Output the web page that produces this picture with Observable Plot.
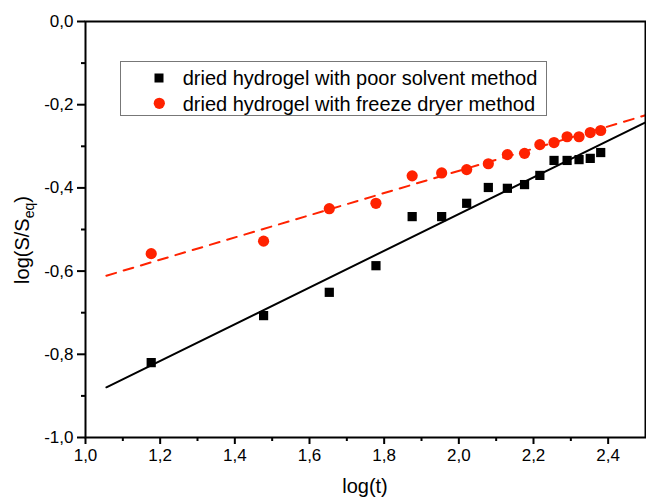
<!DOCTYPE html>
<html>
<head>
<meta charset="utf-8">
<script src="https://cdn.jsdelivr.net/npm/d3@7"></script>
<script src="https://cdn.jsdelivr.net/npm/@observablehq/plot@0.6"></script>
<style>
  html, body { margin: 0; padding: 0; background: #fff; }
  #chart svg { display: block; }
</style>
</head>
<body>
<div id="chart"></div>
<script>
// ---- data ----
const logT = [1.176, 1.477, 1.653, 1.778, 1.875, 1.954, 2.021, 2.079, 2.130, 2.176, 2.217, 2.255, 2.290, 2.322, 2.352, 2.380];
const poorSolvent = [-0.820, -0.707, -0.651, -0.587, -0.469, -0.469, -0.437, -0.399, -0.401, -0.392, -0.370, -0.334, -0.334, -0.332, -0.329, -0.315];
const freezeDryer = [-0.558, -0.528, -0.450, -0.437, -0.371, -0.364, -0.356, -0.342, -0.320, -0.317, -0.296, -0.291, -0.277, -0.277, -0.267, -0.262];
const seriesNames = ["dried hydrogel with poor solvent method", "dried hydrogel with freeze dryer method"];
// linear fits: [intercept, slope]
const fitPoor = [-1.345, 0.441];
const fitFreeze = [-0.893, 0.267];
const fitRange = [1.056, 2.5];
const xTicks = [1.0, 1.2, 1.4, 1.6, 1.8, 2.0, 2.2, 2.4];
const xMinor = [1.1, 1.3, 1.5, 1.7, 1.9, 2.1, 2.3];
const yTicks = [-1.0, -0.8, -0.6, -0.4, -0.2, 0.0];
const yMinor = [-0.9, -0.7, -0.5, -0.3, -0.1];

const RED = "#ff2200";
const fmt = d => d.toFixed(1).replace(".", ",");

const pts = logT.map((x, i) => ({x, poor: poorSolvent[i], freeze: freezeDryer[i]}));
const fitLine = f => fitRange.map(x => ({x, y: f[0] + f[1] * x}));

const W = 646, H = 499, ML = 85, MR = 1, MT = 21, MB = 62;

const chart = Plot.plot({
  width: W, height: H,
  marginLeft: ML, marginRight: MR, marginTop: MT, marginBottom: MB,
  style: {fontFamily: "'Liberation Sans', Arial, sans-serif", color: "#000", background: "#fff"},
  x: {domain: [1.0, 2.5]},
  y: {domain: [-1.0, 0.0]},
  marks: [
    Plot.line(fitLine(fitPoor), {x: "x", y: "y", stroke: "#000", strokeWidth: 2}),
    Plot.line(fitLine(fitFreeze), {x: "x", y: "y", stroke: RED, strokeWidth: 2, strokeDasharray: "10,8"}),
    Plot.dot(pts, {x: "x", y: "poor", symbol: "square", r: 5.2, fill: "#000", stroke: "none"}),
    Plot.dot(pts, {x: "x", y: "freeze", symbol: "circle", r: 5.6, fill: RED, stroke: "none"}),
    Plot.axisX({ticks: xTicks, tickFormat: fmt, tickSize: 7, tickPadding: 4, fontSize: 17, strokeWidth: 2, label: null}),
    Plot.axisX({ticks: xMinor, tickFormat: () => "", tickSize: 4, strokeWidth: 2, label: null}),
    Plot.axisY({ticks: yTicks, tickFormat: fmt, tickSize: 8, tickPadding: 4, fontSize: 17, strokeWidth: 2, label: null}),
    Plot.axisY({ticks: yMinor, tickFormat: () => "", tickSize: 4, strokeWidth: 2, label: null}),
    Plot.frame({stroke: "#000", strokeWidth: 2})
  ]
});

const svg = d3.select(chart);
const FF = "'Liberation Sans', Arial, sans-serif";

// axis titles
svg.append("text")
  .attr("x", ML + (W - ML - MR) / 2).attr("y", 493)
  .attr("text-anchor", "middle").attr("font-size", 20).attr("font-family", FF).attr("fill", "#000")
  .text("log(t)");

const yt = svg.append("text")
  .attr("transform", `translate(29,240) rotate(-90)`)
  .attr("text-anchor", "middle").attr("font-size", 20).attr("font-family", FF).attr("fill", "#000");
yt.append("tspan").text("log(S/S");
yt.append("tspan").attr("font-size", 14).attr("dy", 5).text("eq");
yt.append("tspan").attr("dy", -5).text(")");

// legend
const lg = svg.append("g").attr("text-anchor", "start");
lg.append("rect").attr("x", 120.5).attr("y", 61.5).attr("width", 426).attr("height", 54)
  .attr("fill", "#fff").attr("stroke", "#777").attr("stroke-width", 1);
lg.append("rect").attr("x", 154.5).attr("y", 73.5).attr("width", 9).attr("height", 9).attr("fill", "#000");
lg.append("circle").attr("cx", 159.3).attr("cy", 103.3).attr("r", 5.6).attr("fill", RED);
seriesNames.forEach((name, i) => {
  lg.append("text").attr("x", 182.7).attr("y", 78 + i * 25.3).attr("dy", "0.36em")
    .attr("text-anchor", "start")
    .attr("font-size", 20).attr("font-family", FF).attr("fill", "#000").text(name);
});

document.getElementById("chart").appendChild(chart);
</script>
</body>
</html>
